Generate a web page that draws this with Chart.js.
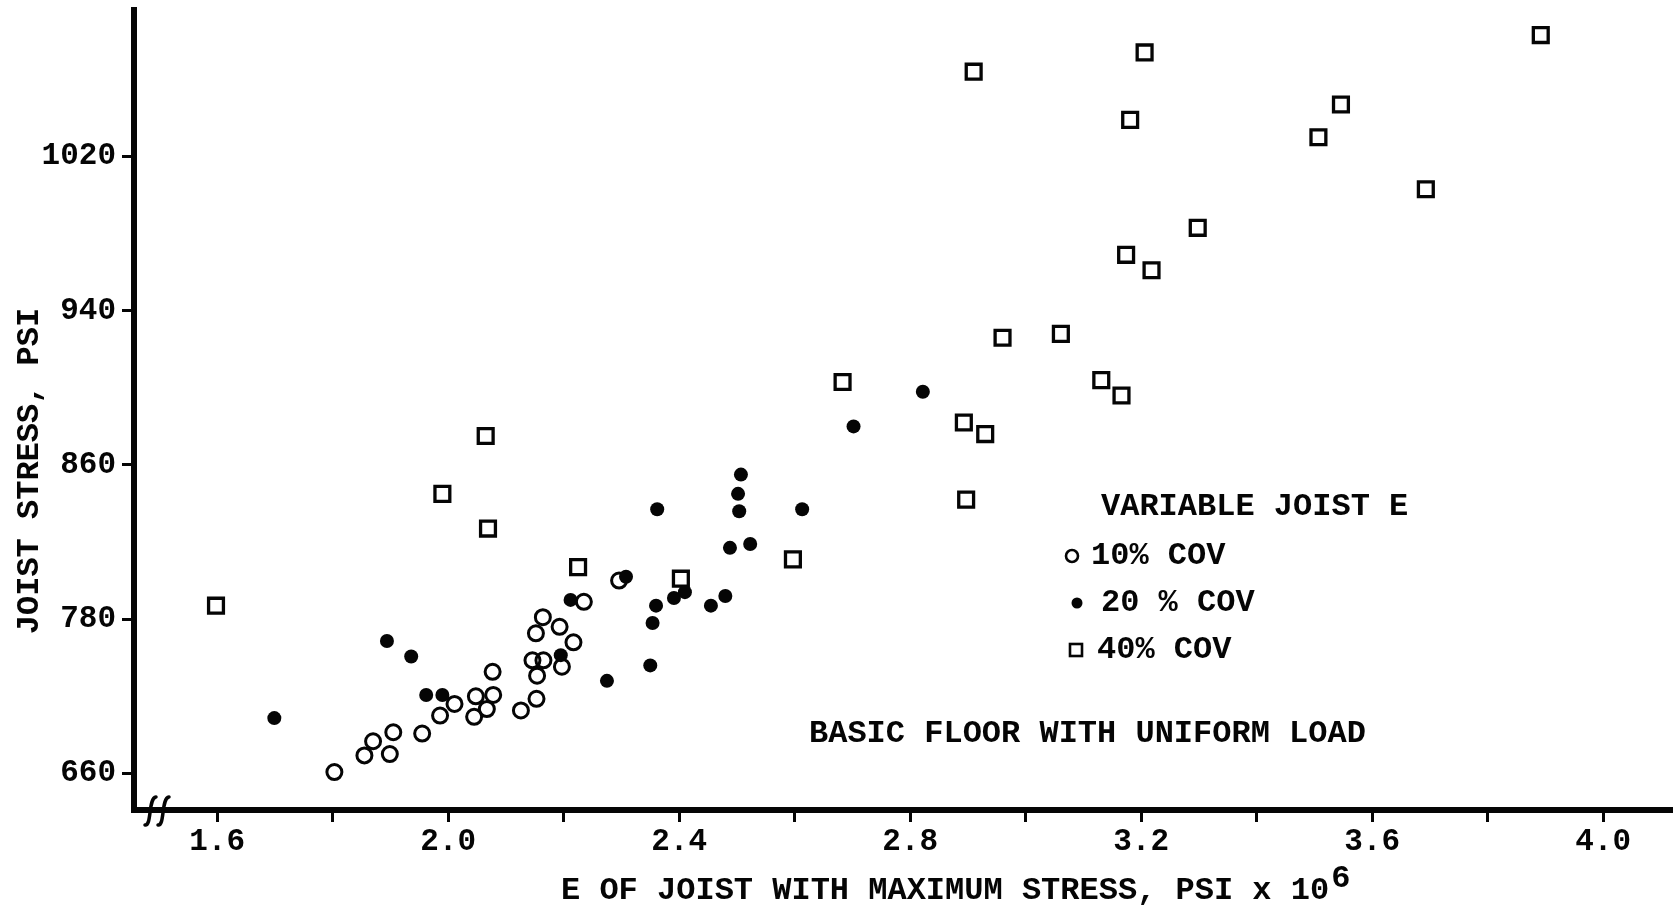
<!DOCTYPE html>
<html>
<head>
<meta charset="utf-8">
<title>Joist stress versus E of joist with maximum stress</title>
<script src="https://cdn.jsdelivr.net/npm/chart.js@4.4.1/dist/chart.umd.min.js"></script>
<style>
  html, body { margin: 0; padding: 0; background: #fff; }
  #wrap { width: 1673px; height: 915px; position: relative; }
</style>
</head>
<body>
<div id="wrap"><canvas id="chart" width="1673" height="915"></canvas></div>
<script>
// ---- data -----------------------------------------------------------------
// E of the joist carrying the maximum stress (psi x 10^6) and that stress (psi)

// 10% COV (open circles)
const cov10E      = [1.803, 1.855, 1.870, 1.899, 1.905, 1.955, 1.986, 2.011, 2.045, 2.048,
                     2.067, 2.078, 2.077, 2.126, 2.153, 2.154, 2.146, 2.165, 2.197, 2.152,
                     2.164, 2.193, 2.217, 2.235, 2.296];
const cov10Stress = [661, 674, 685, 675, 692, 691, 705, 714, 704, 720,
                     710, 721, 739, 709, 718, 736, 748, 748, 743, 769,
                     781, 774, 762, 789, 800];

// 20% COV (filled dots)
const cov20E      = [1.699, 1.894, 1.936, 1.962, 1.990, 2.195, 2.212, 2.275, 2.308, 2.350,
                     2.354, 2.360, 2.362, 2.391, 2.410, 2.455, 2.480, 2.488, 2.507, 2.502,
                     2.504, 2.523, 2.613, 2.702, 2.822];
const cov20Stress = [703, 763, 751, 721, 721, 752, 790, 732, 802, 744,
                     777, 787, 837, 791, 794, 787, 792, 817, 855, 845,
                     836, 819, 837, 880, 898];

// 40% COV (open squares)
const cov40E      = [1.598, 1.990, 2.065, 2.069, 2.225, 2.403, 2.597, 2.683, 2.893, 2.897,
                     2.930, 2.960, 2.910, 3.061, 3.131, 3.166, 3.174, 3.218, 3.181, 3.206,
                     3.298, 3.507, 3.546, 3.693, 3.892];
const cov40Stress = [787, 845, 875, 827, 807, 801, 811, 903, 882, 842,
                     876, 926, 1064, 928, 904, 896, 969, 961, 1039, 1074,
                     983, 1030, 1047, 1003, 1083];

const seriesLabels = ['10% COV', '20 % COV', '40% COV'];

// axis ticks
const xTickValues = [1.6, 1.8, 2.0, 2.2, 2.4, 2.6, 2.8, 3.0, 3.2, 3.4, 3.6, 3.8, 4.0];
const xTickLabels = ['1.6', '', '2.0', '', '2.4', '', '2.8', '', '3.2', '', '3.6', '', '4.0'];
const yTickValues = [660, 780, 860, 940, 1020];
const yTickLabels = ['660', '780', '860', '940', '1020'];

// texts
const xTitle = 'E OF JOIST WITH MAXIMUM STRESS, PSI x 10';
const xTitleExponent = '6';
const yTitle = 'JOIST STRESS, PSI';
const legendTitle = 'VARIABLE JOIST E';
const noteText = 'BASIC FLOOR WITH UNIFORM LOAD';

// ---- styling ----------------------------------------------------------------
const INK = '#050505';
const FONT_FAMILY = '"Liberation Mono", "Courier New", monospace';
const font = (size) => 'bold ' + size + 'px ' + FONT_FAMILY;

// ---- stress axis: the stretch below 780 psi is drawn compressed -------------
const STRESS_BREAK = 780;
const LOWER_COMPRESSION = 80 / 120;   // 120 psi below the break share the span of 80 above it
const toAxis = (v) => v >= STRESS_BREAK ? v : STRESS_BREAK - (STRESS_BREAK - v) * LOWER_COMPRESSION;
const fromAxis = (a) => a >= STRESS_BREAK ? a : STRESS_BREAK - (STRESS_BREAK - a) / LOWER_COMPRESSION;

class StressScale extends Chart.LinearScale {
  determineDataLimits() {
    super.determineDataLimits();
    this.min = toAxis(this.min);
    this.max = toAxis(this.max);
  }
  buildTicks() {
    return yTickValues.map((v) => ({ value: v }));
  }
  getPixelForValue(value) {
    return super.getPixelForValue(toAxis(value));
  }
  getValueForPixel(pixel) {
    return fromAxis(super.getValueForPixel(pixel));
  }
}
StressScale.id = 'stress';
StressScale.defaults = Chart.LinearScale.defaults;
Chart.register(StressScale);

const points = (xs, ys) => xs.map((x, i) => ({ x: x, y: ys[i] }));

// ---- decorations: axis titles, key, note, axis break ------------------------
const decorations = {
  id: 'decorations',
  afterDraw(chart) {
    const ctx = chart.ctx;
    ctx.save();
    ctx.fillStyle = INK;
    ctx.strokeStyle = INK;
    ctx.lineCap = 'round';

    // break marks on the E axis near the origin
    ctx.lineWidth = 3.5;
    [145, 158].forEach((x0) => {
      const y0 = 825;
      ctx.beginPath();
      ctx.moveTo(x0, y0);
      ctx.bezierCurveTo(x0 + 7, y0 + 1, x0 + 3, y0 - 27, x0 + 11, y0 - 28);
      ctx.stroke();
    });

    // y axis title
    ctx.save();
    ctx.font = font(32);
    ctx.translate(30, 471);
    ctx.rotate(-Math.PI / 2);
    ctx.textAlign = 'center';
    ctx.textBaseline = 'middle';
    ctx.fillText(yTitle, 0, 0);
    ctx.restore();

    // x axis title with raised exponent
    ctx.font = font(32);
    ctx.textAlign = 'left';
    ctx.textBaseline = 'alphabetic';
    const tx = 561, ty = 899;
    ctx.fillText(xTitle, tx, ty);
    const w = ctx.measureText(xTitle).width;
    ctx.fillText(xTitleExponent, tx + w + 2, ty - 12);

    // key
    ctx.font = font(32);
    ctx.textBaseline = 'middle';
    ctx.fillText(legendTitle, 1101, 507);
    const rows = [
      { style: 'open',   mx: 1072, tx: 1091, y: 556 },
      { style: 'filled', mx: 1077, tx: 1101, y: 603 },
      { style: 'square', mx: 1076, tx: 1097, y: 650 }
    ];
    rows.forEach((r, i) => {
      ctx.lineWidth = 2.6;
      if (r.style === 'open') {
        ctx.beginPath(); ctx.arc(r.mx, r.y, 6, 0, Math.PI * 2); ctx.stroke();
      } else if (r.style === 'filled') {
        ctx.beginPath(); ctx.arc(r.mx, r.y, 5.5, 0, Math.PI * 2); ctx.fill();
      } else {
        ctx.strokeRect(r.mx - 6, r.y - 6, 12, 12);
      }
      ctx.fillText(seriesLabels[i], r.tx, r.y);
    });

    // note
    ctx.font = font(32);
    ctx.fillText(noteText, 809, 734);
    ctx.restore();
  }
};

// ---- chart ------------------------------------------------------------------
const tickGrid = {
  display: true,
  drawOnChartArea: false,
  drawTicks: true,
  tickLength: 12,
  tickWidth: 3,
  tickColor: INK
};

new Chart(document.getElementById('chart'), {
  type: 'scatter',
  data: {
    datasets: [
      {
        label: seriesLabels[1],
        data: points(cov20E, cov20Stress),
        pointStyle: 'circle',
        pointRadius: 7,
        pointBackgroundColor: INK,
        pointBorderColor: INK,
        pointBorderWidth: 0
      },
      {
        label: seriesLabels[0],
        data: points(cov10E, cov10Stress),
        pointStyle: 'circle',
        pointRadius: 7.5,
        pointBackgroundColor: 'rgba(0,0,0,0)',
        pointBorderColor: INK,
        pointBorderWidth: 3
      },
      {
        label: seriesLabels[2],
        data: points(cov40E, cov40Stress),
        pointStyle: 'rect',
        pointRadius: 10.5,
        pointBackgroundColor: 'rgba(0,0,0,0)',
        pointBorderColor: INK,
        pointBorderWidth: 3.3
      }
    ]
  },
  options: {
    responsive: false,
    animation: false,
    events: [],
    layout: { autoPadding: false, padding: { top: 10, left: 0, right: 0, bottom: 0 } },
    plugins: {
      legend: { display: false },
      tooltip: { enabled: false },
      title: { display: false }
    },
    scales: {
      x: {
        type: 'linear',
        position: 'bottom',
        min: 1.456,
        max: 4.121,
        afterFit: (scale) => {
          scale.height = 105;
          scale.paddingLeft = 0;
          scale.paddingRight = 0;
        },
        afterBuildTicks: (scale) => { scale.ticks = xTickValues.map((v) => ({ value: v })); },
        grid: tickGrid,
        border: { display: true, color: INK, width: 6 },
        ticks: {
          autoSkip: false,
          maxRotation: 0,
          minRotation: 0,
          padding: 2,
          color: INK,
          font: { family: FONT_FAMILY, size: 31, weight: 'bold' },
          callback: (value, index) => xTickLabels[index]
        },
        title: { display: false }
      },
      y: {
        type: 'stress',
        position: 'left',
        bounds: 'data',
        min: 631.5,
        max: 1096,
        afterFit: (scale) => {
          scale.width = 134;
          scale.paddingTop = 0;
          scale.paddingBottom = 0;
        },
        grid: tickGrid,
        border: { display: true, color: INK, width: 6 },
        ticks: {
          autoSkip: false,
          padding: 6,
          color: INK,
          font: { family: FONT_FAMILY, size: 31, weight: 'bold' },
          callback: (value, index) => yTickLabels[index]
        },
        title: { display: false }
      }
    }
  },
  plugins: [decorations]
});
</script>
</body>
</html>
